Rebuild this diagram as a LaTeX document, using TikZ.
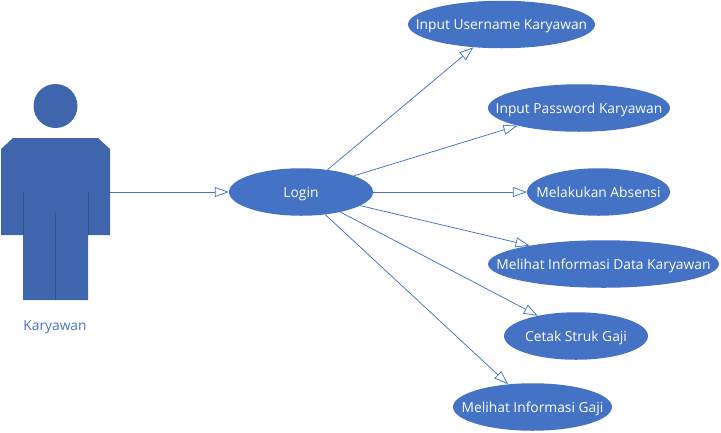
\documentclass[tikz,border=0pt]{standalone}
\usepackage{fontspec}
\setmainfont{Open Sans}
\usetikzlibrary{arrows.meta,shapes.geometric}
\definecolor{ucblue}{HTML}{4472C4}
\definecolor{actorblue}{HTML}{3F66AC}
\definecolor{actorline}{HTML}{2F5290}
\newcommand{\uctext}[1]{\makebox[0pt][c]{\raisebox{0pt}[0pt][0pt]{\raisebox{-0.72ex}{#1}}}}
\tikzset{
  usecase/.style={ellipse,fill=ucblue,text=white,inner sep=0pt,minimum width=#1,minimum height=47.5pt,font=\fontsize{13.8}{16}\selectfont},
  link/.style={draw=ucblue,line width=0.75pt,-{Triangle[open,length=14pt,width=10pt,fill=white]}},
  actorfold/.style={draw=actorline,line width=0.75pt}
}
\begin{document}
\begin{tikzpicture}[x=1pt,y=-1pt]
\useasboundingbox (0,0) rectangle (721,432);
% actor
\fill[actorblue] (55.5,106) circle (22pt);
\fill[actorblue] (13,138) -- (98,138) -- (110,149) -- (110,235) -- (88,235) -- (88,300) -- (23,300) -- (23,235) -- (1,235) -- (1,149) -- cycle;
\draw[actorfold] (23,192) -- (23,235);
\draw[actorfold] (88,192) -- (88,235);
\draw[actorfold] (55.5,213) -- (55.5,300);
\coordinate (hand) at (110,192);
\node[text=ucblue,inner sep=0pt,font=\fontsize{13.8}{16}\selectfont] (actorlabel) at (55,325) {\uctext{Karyawan}};
% use cases
\node[usecase=144pt] (login) at (301,192) {\uctext{Login}};
\node[usecase=187pt] (user) at (501.5,24.5) {\uctext{Input Username Karyawan}};
\node[usecase=182pt] (pass) at (579,108) {\uctext{Input Password Karyawan}};
\node[usecase=143pt] (absen) at (598.5,192) {\uctext{Melakukan Absensi}};
\node[usecase=231pt] (data) at (603.5,264) {\uctext{Melihat Informasi Data Karyawan}};
\node[usecase=144pt] (struk) at (576,336) {\uctext{Cetak Struk Gaji}};
\node[usecase=159pt] (gaji) at (532.5,407) {\uctext{Melihat Informasi Gaji}};
% connectors
\draw[link] (hand) -- (login.west);
\draw[link] (login.40) -- (user.219.3);
\draw[link] (login.17.8) -- (pass.196.7);
\draw[link] (login.east) -- (absen.west);
\draw[link] (login.-13.6) -- (data.166.7);
\draw[link] (login.-27) -- (struk.152.9);
\draw[link] (login.-43.8) -- (gaji.137.3);
\end{tikzpicture}
\end{document}
